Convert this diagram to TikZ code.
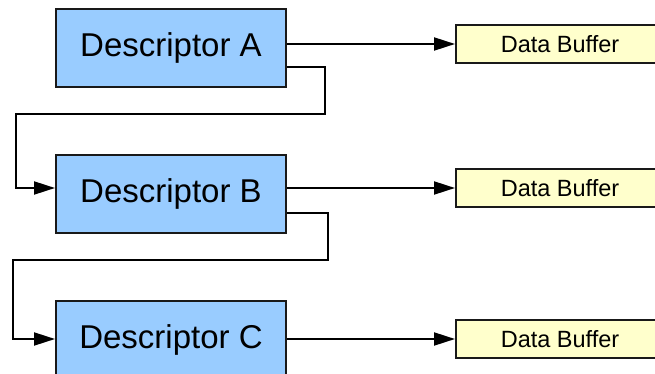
\documentclass[tikz,border=0pt]{standalone}
\usepackage{fontspec}
\setmainfont{Liberation Sans}
\usetikzlibrary{arrows.meta,calc,positioning}
\definecolor{descblue}{RGB}{153,204,255}
\definecolor{bufyellow}{RGB}{255,255,204}
\tikzset{
  desc/.style={draw=black!90,line width=2pt,fill=descblue,minimum width=230pt,minimum height=78pt,inner sep=0pt,font=\fontsize{33}{40}\selectfont},
  buf/.style={draw=black!90,line width=2pt,fill=bufyellow,minimum width=208pt,minimum height=38pt,inner sep=0pt,font=\fontsize{23.5}{28}\selectfont},
  link/.style={-{Triangle[length=21pt,width=13pt]},line width=2pt},
  chain/.style={link}
}
\begin{document}
\begin{tikzpicture}[x=1pt,y=1pt]
\useasboundingbox (0,0) rectangle (655,-374);
\node[desc] (dA) at (171,-48) {Descriptor A};
\node[desc, below=66pt of dA] (dB) {Descriptor B};
\node[desc, below=66pt of dB] (dC) {Descriptor C};

% data buffers
\node[buf, right=168pt of dA, yshift=4pt, anchor=west] (bA) {Data Buffer};
\node[buf, right=168pt of dB, yshift=6pt, anchor=west] (bB) {Data Buffer};
\node[buf, right=168pt of dC, yshift=1pt, anchor=west] (bC) {Data Buffer};

% pointers to buffers
\draw[link] (dA.east |- bA.west) -- (bA.west);
\draw[link] (dB.east |- bB.west) -- (bB.west);
\draw[link] (dC.east |- bC.west) -- (bC.west);

% next descriptor
\draw[chain] ([yshift=-19pt]dA.east) -| ++(38,-47) -| ([xshift=-39pt,yshift=6pt]dB.west) -- ([yshift=6pt]dB.west);
\draw[chain] ([yshift=-19pt]dB.east) -| ++(41,-47) -| ([xshift=-42pt,yshift=1pt]dC.west) -- ([yshift=1pt]dC.west);
\end{tikzpicture}
\end{document}
